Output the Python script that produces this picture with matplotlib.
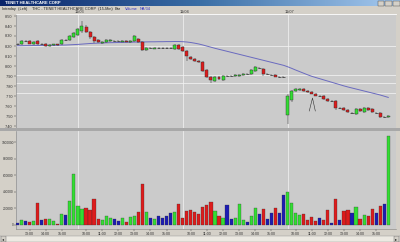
import matplotlib
matplotlib.use("Agg")
import matplotlib.pyplot as plt
import numpy as np
import pandas as pd
from matplotlib.patches import Rectangle
from matplotlib.colors import LinearSegmentedColormap

plt.rcParams['font.family'] = ['Liberation Sans', 'DejaVu Sans']

# ---------------- data ----------------
opens = [8.22, 8.22, 8.25, 8.25, 8.22, 8.25, 8.22, 8.22, 8.20, 8.21, 8.22, 8.22, 8.26, 8.26, 8.29,
         8.31, 8.35, 8.39, 8.34, 8.29, 8.26, 8.23, 8.24, 8.25, 8.25, 8.25, 8.24, 8.25, 8.24, 8.25,
         8.27, 8.24, 8.16, 8.18, 8.17, 8.18, 8.18, 8.18, 8.18, 8.17, 8.21,
         8.19, 8.15, 8.09, 8.07, 8.05, 8.04, 7.96, 7.89, 7.85, 7.89, 7.86, 7.90, 7.90, 7.90, 7.90,
         7.91, 7.92, 7.92, 7.95, 7.98, 7.97, 7.92, 7.91, 7.91, 7.89, 7.89,
         7.51, 7.66, 7.75, 7.76, 7.77, 7.75, 7.74, 7.72, 7.70, 7.70, 7.67, 7.65, 7.65, 7.58, 7.58,
         7.56, 7.53, 7.52, 7.57, 7.54, 7.58, 7.57, 7.53, 7.53, 7.49, 7.49]
highs = [8.23, 8.26, 8.26, 8.26, 8.25, 8.26, 8.23, 8.23, 8.22, 8.22, 8.22, 8.27, 8.27, 8.31, 8.34,
         8.38, 8.45, 8.41, 8.35, 8.30, 8.27, 8.25, 8.27, 8.27, 8.26, 8.26, 8.26, 8.26, 8.26, 8.31,
         8.28, 8.25, 8.19, 8.19, 8.19, 8.19, 8.19, 8.19, 8.19, 8.22, 8.22,
         8.20, 8.16, 8.10, 8.08, 8.06, 8.05, 7.97, 7.90, 7.90, 7.90, 7.91, 7.91, 7.91, 7.92, 7.92,
         7.93, 7.93, 7.97, 8.00, 7.99, 7.98, 7.93, 7.92, 7.92, 7.90, 7.90,
         7.72, 7.76, 7.78, 7.78, 7.78, 7.76, 7.75, 7.73, 7.71, 7.71, 7.68, 7.66, 7.66, 7.59, 7.59,
         7.57, 7.54, 7.58, 7.58, 7.59, 7.59, 7.58, 7.54, 7.54, 7.50, 7.51]
lows = [8.21, 8.21, 8.24, 8.22, 8.21, 8.21, 8.21, 8.19, 8.19, 8.20, 8.20, 8.21, 8.25, 8.25, 8.28,
        8.30, 8.33, 8.33, 8.27, 8.23, 8.23, 8.22, 8.23, 8.24, 8.24, 8.24, 8.24, 8.24, 8.23, 8.24,
        8.23, 8.15, 8.15, 8.17, 8.17, 8.17, 8.17, 8.17, 8.17, 8.16, 8.16,
        8.14, 8.05, 8.06, 8.04, 8.03, 7.94, 7.88, 7.83, 7.84, 7.86, 7.85, 7.89, 7.89, 7.89, 7.89,
        7.90, 7.91, 7.91, 7.94, 7.97, 7.90, 7.91, 7.90, 7.89, 7.88, 7.88,
        7.42, 7.64, 7.74, 7.75, 7.74, 7.73, 7.72, 7.70, 7.69, 7.66, 7.64, 7.64, 7.56, 7.57, 7.55,
        7.53, 7.52, 7.51, 7.54, 7.53, 7.55, 7.53, 7.52, 7.48, 7.48, 7.48]
closes = [8.22, 8.25, 8.25, 8.22, 8.24, 8.22, 8.22, 8.20, 8.21, 8.22, 8.21, 8.26, 8.26, 8.30, 8.33,
          8.37, 8.40, 8.34, 8.29, 8.25, 8.24, 8.24, 8.26, 8.26, 8.25, 8.25, 8.25, 8.24, 8.25, 8.30,
          8.24, 8.16, 8.18, 8.18, 8.18, 8.18, 8.18, 8.18, 8.18, 8.21, 8.17,
          8.15, 8.10, 8.07, 8.05, 8.04, 7.95, 7.89, 7.86, 7.89, 7.87, 7.90, 7.90, 7.90, 7.91, 7.91,
          7.92, 7.92, 7.96, 7.99, 7.98, 7.92, 7.92, 7.91, 7.89, 7.89, 7.89,
          7.70, 7.75, 7.77, 7.77, 7.75, 7.74, 7.72, 7.70, 7.70, 7.67, 7.65, 7.65, 7.58, 7.58, 7.56,
          7.54, 7.53, 7.57, 7.55, 7.58, 7.56, 7.54, 7.53, 7.49, 7.49, 7.50]
volumes = [28, 60, 48, 40, 48, 268, 60, 72, 68, 52, 16, 128, 116, 292, 620,
           232, 188, 200, 180, 312, 68, 60, 112, 88, 68, 48, 80, 32, 100, 112,
           152, 488, 152, 80, 68, 104, 88, 112, 144, 152, 256,
           80, 164, 180, 160, 136, 212, 244, 272, 172, 104, 80, 236, 76, 88, 256,
           60, 36, 112, 208, 136, 188, 68, 140, 204, 140, 364,
           400, 260, 148, 116, 128, 56, 96, 52, 88, 60, 184, 20, 308, 60, 168,
           180, 144, 212, 76, 120, 104, 188, 144, 224, 252, 1068]  # thousands
ma_values = [8.203, 8.203, 8.204, 8.204, 8.205, 8.205, 8.206, 8.206, 8.207, 8.207, 8.208, 8.209,
             8.210, 8.212, 8.214,
             8.216, 8.219, 8.222, 8.225, 8.227, 8.229, 8.230, 8.232, 8.233, 8.234, 8.235, 8.236,
             8.237, 8.238, 8.239, 8.240, 8.240, 8.241, 8.242, 8.242, 8.243, 8.243, 8.244, 8.244,
             8.245, 8.245,
             8.243, 8.240, 8.235, 8.228, 8.220, 8.210, 8.199, 8.188, 8.177, 8.167, 8.157, 8.147,
             8.137, 8.127, 8.117, 8.107, 8.097, 8.087, 8.077, 8.067, 8.057, 8.047, 8.037, 8.027,
             8.017, 8.007,
             7.993, 7.977, 7.960, 7.944, 7.928, 7.912, 7.897, 7.885, 7.873, 7.861, 7.849, 7.837,
             7.825, 7.813, 7.801, 7.790, 7.780, 7.770, 7.760, 7.750, 7.740, 7.730, 7.720, 7.710,
             7.698, 7.686]
sessions = [("2005-11-02", "12:15"), ("2005-11-03", "09:30"), ("2005-11-04", "09:30"), ("2005-11-07", "09:30")]
date_labels = ["11/03", "11/04", "11/07"]
price_ticks = [8.50, 8.40, 8.30, 8.20, 8.10, 8.00, 7.90, 7.80, 7.70, 7.60, 7.50, 7.40]
vol_ticks = [0, 200000, 400000, 600000, 800000, 1000000]
hlines_levels = [8.20, 7.91, 7.83, 7.735]

# --------------- build time axis ---------------
times = []
for d, start in sessions:
    rng = pd.date_range(f"{d} {start}", f"{d} 15:45", freq="15min")
    times.extend(rng)
times = pd.DatetimeIndex(times)
n = len(times)
idx = np.arange(n)
day_starts = [i for i in range(1, n) if times[i].date() != times[i - 1].date()]
hour_ticks = [i for i in range(n) if times[i].minute == 0 and times[i].hour >= 10]
hour_labels = [times[i].strftime("%H:%M") for i in hour_ticks]

o = np.array(opens); h = np.array(highs); l = np.array(lows); c = np.array(closes)
vol = np.array(volumes) * 1000

GREEN = "#33dd33"; RED = "#dd1c1c"; BLUE = "#1c1cb4"
colors = [GREEN if cc > oo else (RED if cc < oo else BLUE) for oo, cc in zip(o, c)]

# --------------- figure ---------------
W, H = 400, 242
fig = plt.figure(figsize=(4.0, 2.42), dpi=100)
fig.patch.set_facecolor("#d4d0c8")

def ax_rect(x0, y0, x1, y1):
    return [x0 / W, 1 - y1 / H, (x1 - x0) / W, (y1 - y0) / H]

# title bar
tb = fig.add_axes(ax_rect(0, 0, 400, 6.5))
grad = np.linspace(0, 1, 256).reshape(1, -1)
cm = LinearSegmentedColormap.from_list("tb", ["#0a246a", "#3a6ea5", "#a6caf0"])
tb.imshow(grad, aspect="auto", cmap=cm, extent=[0, 1, 0, 1])
tb.set_xlim(0, 1); tb.set_ylim(0, 1); tb.axis("off")
tb.text(0.012, 0.5, "TENET HEALTHCARE CORP", color="white", fontsize=3.0, fontweight="bold",
        va="center", ha="left")
for k, bx in enumerate([0.945, 0.963, 0.983]):
    tb.add_patch(Rectangle((bx, 0.12), 0.016, 0.76, facecolor="#d4d0c8", edgecolor="#404040", lw=0.3))

# header text
fig.text(2 / W, 1 - 8.8 / H, "Intraday  (Left)", fontsize=2.8, color="#202020", va="center")
fig.text(32 / W, 1 - 8.8 / H, "THC - TENET HEALTHCARE CORP  (15-Min)", fontsize=2.8, color="#202020", va="center")
fig.text(115 / W, 1 - 8.8 / H, "Bar", fontsize=2.8, color="#202020", va="center")
fig.text(125 / W, 1 - 8.8 / H, "Volume", fontsize=2.8, color="#3030c0", va="center")
fig.text(140 / W, 1 - 8.8 / H, "NA/34", fontsize=2.8, color="#3030c0", va="center")

x_left_px, x_right_px = 16, 396
bar0_px, step_px = 17.5, 4.03
xl = (-(bar0_px - x_left_px) / step_px, (x_right_px - bar0_px) / step_px)

# price panel
top_px, bot_px = 14, 128
axp = fig.add_axes(ax_rect(x_left_px, top_px, x_right_px, bot_px))
axp.set_facecolor("#cbcbcb")
axp.set_xlim(*xl)
axp.set_ylim(8.50 - (bot_px - 16) / 100, 8.50 + (16 - top_px) / 100)
for lev in hlines_levels:
    axp.axhline(lev, color="white", lw=0.5, alpha=0.85, zorder=1)
for ds in day_starts:
    axp.axvline(ds, color="#f4f4f4", lw=0.5, zorder=1)
axp.plot(idx, ma_values, color="#6a6abf", lw=0.7, zorder=2)
axp.vlines(idx, l, h, color="#202020", lw=0.35, zorder=3)
body_bottom = np.minimum(o, c)
body_h = np.abs(c - o)
mask = body_h > 0
axp.bar(idx[mask], body_h[mask], bottom=body_bottom[mask], width=0.74,
        color=[colors[i] for i in idx[mask]], edgecolor="#303030", linewidth=0.3, zorder=4)
axp.hlines(c[~mask], idx[~mask] - 0.38, idx[~mask] + 0.38, color="#202020", lw=0.45, zorder=4)
# annotation mark
axp.plot([72.4, 73.2, 73.9], [7.55, 7.68, 7.55], color="#303030", lw=0.4, zorder=5)

axp.set_yticks(price_ticks)
axp.set_yticklabels([f"{t:.2f}" for t in price_ticks])
axp.tick_params(axis="y", labelsize=2.8, length=1.5, width=0.3, pad=0.8, colors="#303030")
axp.set_xticks([])
for s in ["right", "bottom"]:
    axp.spines[s].set_visible(False)
axp.spines["top"].set_color("white"); axp.spines["top"].set_linewidth(0.6)
axp.spines["left"].set_color("#808080"); axp.spines["left"].set_linewidth(0.4)
for ds, lab in zip(day_starts, date_labels):
    axp.text(ds + 0.5, 1.0, lab, transform=axp.get_xaxis_transform(), fontsize=2.8,
             color="#303030", ha="center", va="bottom")

# separator
sep = fig.add_axes(ax_rect(0, 128, 400, 130.5))
sep.set_facecolor("#a8a8a8"); sep.set_xticks([]); sep.set_yticks([])
for s in sep.spines.values():
    s.set_visible(False)

# volume panel
vtop, vbot = 130.5, 229
axv = fig.add_axes(ax_rect(x_left_px, vtop, x_right_px, vbot))
axv.set_facecolor("#cbcbcb")
axv.set_xlim(*xl)
px_per_unit = 83 / 1e6
axv.set_ylim(-(vbot - 225) / px_per_unit, (225 - vtop) / px_per_unit)
for ds in day_starts:
    axv.axvline(ds, color="#f4f4f4", lw=0.5, zorder=1)
axv.bar(idx, vol, width=0.78, color=colors, edgecolor="#303030", linewidth=0.2, zorder=3)
axv.set_yticks(vol_ticks)
axv.set_yticklabels([str(t) for t in vol_ticks])
axv.tick_params(axis="y", labelsize=2.3, length=1.2, width=0.3, pad=0.5, colors="#303030")
axv.set_xticks(hour_ticks)
axv.set_xticklabels(hour_labels)
axv.tick_params(axis="x", labelsize=2.6, length=1.2, width=0.3, pad=1.2, colors="#303030")
for s in ["right", "top"]:
    axv.spines[s].set_visible(False)
axv.spines["left"].set_color("#808080"); axv.spines["left"].set_linewidth(0.4)
axv.spines["bottom"].set_color("#808080"); axv.spines["bottom"].set_linewidth(0.4)

# scrollbar
sb = fig.add_axes(ax_rect(0, 235.5, 400, 242))
sb.set_xlim(0, 400); sb.set_ylim(0, 1)
sb.set_facecolor("#ece9e2"); sb.set_xticks([]); sb.set_yticks([])
for s in sb.spines.values():
    s.set_color("#909090"); s.set_linewidth(0.3)
sb.add_patch(Rectangle((0.5, 0.05), 5, 0.9, facecolor="#d4d0c8", edgecolor="#606060", lw=0.3))
sb.add_patch(Rectangle((393.5, 0.05), 5, 0.9, facecolor="#d4d0c8", edgecolor="#606060", lw=0.3))
sb.text(3, 0.5, "◂", fontsize=3, ha="center", va="center", color="#202020")
sb.text(396, 0.5, "▸", fontsize=3, ha="center", va="center", color="#202020")

fig.savefig("out.png", dpi=100, facecolor=fig.get_facecolor())
